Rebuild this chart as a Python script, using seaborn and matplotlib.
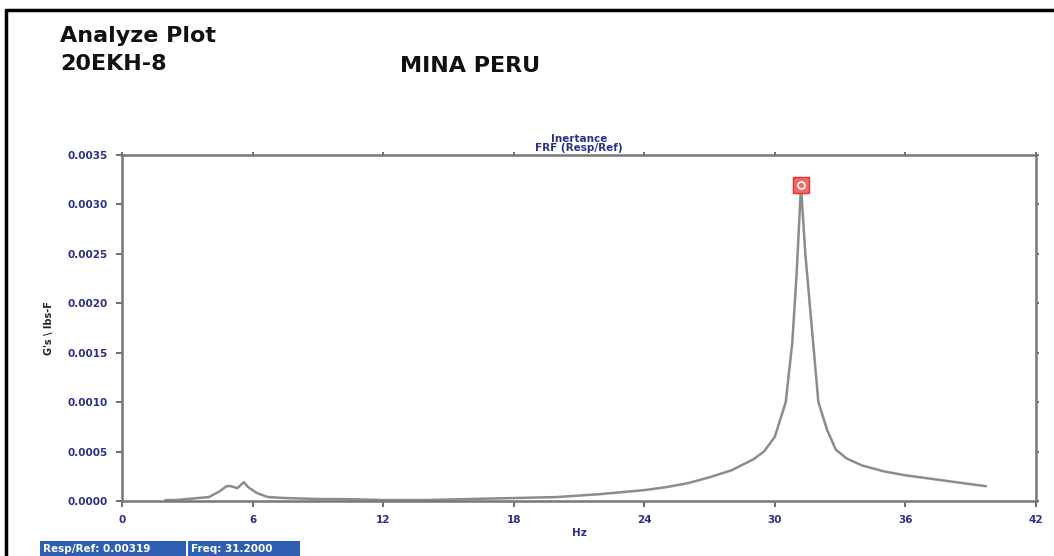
import matplotlib
matplotlib.use("Agg")
import matplotlib.pyplot as plt
import seaborn as sns
import pandas as pd
from matplotlib.lines import Line2D
from matplotlib.patches import Rectangle

freq = [2.0, 2.5, 3.0, 3.5, 4.0, 4.5, 4.8, 5.0, 5.3, 5.6, 5.8, 6.2, 6.7, 7.5, 9.0, 10.0,
        12.0, 14.0, 16.0, 18.0, 20.0, 22.0, 24.0, 25.0, 26.0, 27.0, 28.0, 29.0, 29.5,
        30.0, 30.5, 30.8, 31.0, 31.2, 31.4, 31.6, 32.0, 32.4, 32.8, 33.3, 34.0, 35.0,
        36.0, 37.0, 38.0, 39.0, 39.7]
resp = [0.00001, 0.00001, 0.00002, 0.00003, 0.00004, 0.00010, 0.00015, 0.00015, 0.00013,
        0.00019, 0.00014, 0.00008, 0.00004, 0.00003, 0.00002, 0.00002,
        0.00001, 0.00001, 0.00002, 0.00003, 0.00004, 0.00007, 0.00011, 0.00014, 0.00018,
        0.00024, 0.00031, 0.00042, 0.00050,
        0.00065, 0.00100, 0.00160, 0.00230, 0.00319, 0.00250, 0.00200, 0.00100, 0.00072,
        0.00052, 0.00043, 0.00036, 0.00030,
        0.00026, 0.00023, 0.00020, 0.00017, 0.00015]
peak_freq = [31.2]
peak_resp = [0.00320]
x_ticks = [0, 6, 12, 18, 24, 30, 36, 42]
y_ticks = [0.0, 0.0005, 0.0010, 0.0015, 0.0020, 0.0025, 0.0030, 0.0035]

sns.set_theme(style="white")
plt.rcParams['font.family'] = ['DejaVu Sans']

navy = "#2b2f8c"
W, H = 1054, 556
fig = plt.figure(figsize=(10.54, 5.56), dpi=100)
ax = fig.add_axes([122/W, 1-501/H, (1036-122)/W, (501-155)/H])

df = pd.DataFrame({"Hz": freq, "resp": resp})
sns.lineplot(data=df, x="Hz", y="resp", ax=ax, color="#8c8c8c", linewidth=1.8,
             sort=False, estimator=None)
ax.plot(peak_freq, peak_resp, marker="s", markersize=11, markerfacecolor="#f06a6a",
        markeredgecolor="#e83030", linestyle="none", zorder=5)
ax.plot(peak_freq, peak_resp, marker="o", markersize=5, markerfacecolor="none",
        markeredgecolor="white", markeredgewidth=1.2, linestyle="none", zorder=6)

ax.set_xlim(0, 42)
ax.set_ylim(0, 0.0035)
ax.set_xticks(x_ticks)
ax.set_yticks(y_ticks)
ax.set_xticklabels([str(t) for t in x_ticks])
ax.set_yticklabels([f"{t:.4f}" for t in y_ticks])
for s in ax.spines.values():
    s.set_color("#777777")
    s.set_linewidth(1.8)
ax.tick_params(axis="both", which="both", direction="out", length=4, width=1.2,
               color="#555555", labelsize=7.5, labelcolor=navy, pad=6)
ax.tick_params(axis="x", bottom=True, top=True)
ax.tick_params(axis="y", left=True, right=True)
for t in ax.xaxis.get_major_ticks():
    t.tick2line.set_markersize(2.5)
for t in ax.yaxis.get_major_ticks():
    t.tick2line.set_markersize(2.5)
for lab in ax.get_xticklabels() + ax.get_yticklabels():
    lab.set_fontweight("bold")
ax.set_xlabel("Hz", fontsize=7.5, color=navy, fontweight="bold", labelpad=2)
ax.set_ylabel("G's \\ lbs-F", fontsize=7, color="#222222", fontweight="bold", labelpad=10)
ax.set_title("Inertance\nFRF (Resp/Ref)", fontsize=7.5, color=navy, fontweight="bold",
             pad=3, linespacing=0.9)

# header texts
fig.text(60/W, 1-36/H, "Analyze Plot", fontsize=16, color="#111111",
         va="center", ha="left", fontweight="bold")
fig.text(60/W, 1-64/H, "20EKH-8", fontsize=16, color="#111111",
         va="center", ha="left", fontweight="bold")
fig.text(400/W, 1-66/H, "MINA PERU", fontsize=16, color="#111111",
         va="center", ha="left", fontweight="bold")

# outer frame lines (left and top)
fig.add_artist(Line2D([6/W, 6/W], [0, 1-10/H], color="black", linewidth=2.5,
                      transform=fig.transFigure))
fig.add_artist(Line2D([6/W, 1], [1-10/H, 1-10/H], color="black", linewidth=2.5,
                      transform=fig.transFigure))

# status boxes
for x0, x1, txt in [(40, 186, "Resp/Ref: 0.00319"), (188, 300, "Freq: 31.2000")]:
    fig.add_artist(Rectangle((x0/W, 0), (x1-x0)/W, 15/H, transform=fig.transFigure,
                             facecolor="#2f5fb3", edgecolor="none"))
    fig.text((x0+3)/W, 7.5/H, txt, fontsize=7.5, color="white", fontweight="bold",
             va="center", ha="left")

fig.savefig("out.png", dpi=100)
